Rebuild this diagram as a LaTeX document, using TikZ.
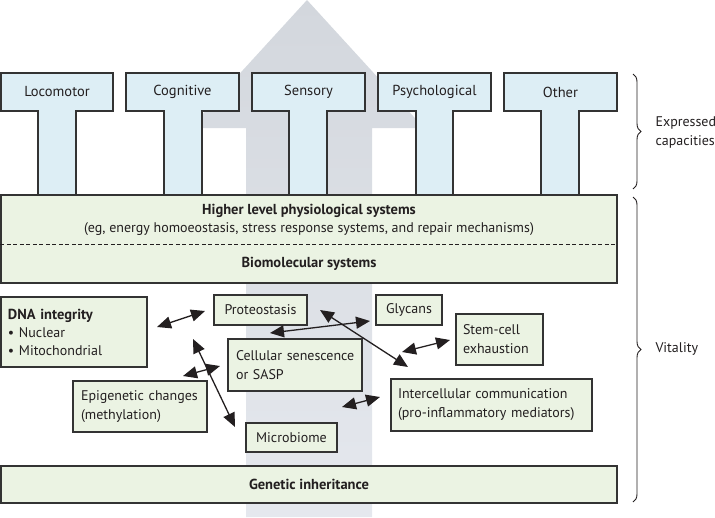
\documentclass[tikz,border=0pt]{standalone}
\usepackage{fontspec}
\setmainfont{PT Sans}
\usetikzlibrary{arrows.meta,decorations.pathreplacing}
\definecolor{txt}{HTML}{231F20}
\definecolor{edge}{HTML}{333333}
\definecolor{tblue}{HTML}{DDEEF5}
\definecolor{bgreen}{HTML}{EBF3E3}
\definecolor{arrtop}{RGB}{211,215,221}
\definecolor{arrbot}{RGB}{229,232,238}
\tikzset{
  tshape/.style={draw=edge, fill=tblue, line width=1.1pt},
  tlabel/.style={text=txt, font=\fontsize{14.5}{16}\selectfont},
  gbox/.style={draw=edge, fill=bgreen, line width=1.1pt, rectangle, inner sep=0pt, text=txt,
     font=\fontsize{14}{19}\selectfont},
  lbox/.style={gbox, align=left},
  bold/.style={text=txt, font=\fontsize{14.5}{16}\bfseries\selectfont},
  dbl/.style={{Triangle[length=14pt,width=12pt]}-{Triangle[length=14pt,width=12pt]}, line width=1.3pt, draw=txt},
  brc/.style={decorate, decoration={brace, amplitude=8pt}, line width=0.9pt, draw=txt},
  side/.style={text=txt, font=\fontsize{14}{19}\selectfont, align=left, anchor=west}
}
\begin{document}
\begin{tikzpicture}[x=1pt,y=-1pt]
\useasboundingbox (0,0) rectangle (715,517);
% big background arrow
\shade[top color=arrtop, bottom color=arrbot]
  (246,517) -- (246,128) -- (190,128) -- (307,0) -- (424,128) -- (372,128) -- (372,517) -- cycle;
% T shapes
\foreach \xa/\xb/\sa/\sb/\nm/\lab in {1/113/38/76/loco/Locomotor, 126/239/164/202/cogn/Cognitive, 252/365/289/327/sens/Sensory, 378/491/416/453/psyc/Psychological, 504/617/541/579/othr/Other}{
  \draw[tshape] (\xa,73) -- (\xb,73) -- (\xb,111) -- (\sb,111) -- (\sb,195) -- (\sa,195) -- (\sa,111) -- (\xa,111) -- cycle;
  \node[tlabel] (\nm) at ({(\xa+\xb)/2},92) {\lab};
}
% higher level / biomolecular
\node[gbox, minimum width=616pt, minimum height=88pt] (high) at (309,239) {};
\draw[line width=0.9pt, draw=txt, dash pattern=on 4pt off 2.5pt] (high.west |- 0,244) coordinate (dl) -- (high.east |- 0,244) coordinate (dr);
\node[bold] (hl1) at (309,211) {Higher level physiological systems};
\node[text=txt, font=\fontsize{14}{16}\selectfont] (hl2) at (309,229.5) {(eg, energy homoeostasis, stress response systems, and repair mechanisms)};
\node[bold] (bio) at (309,264) {Biomolecular systems};
% genetic inheritance
\node[gbox, minimum width=616pt, minimum height=37pt, font=\fontsize{14.5}{16}\bfseries\selectfont] (gen) at (309,484.5) {Genetic inheritance};
% lower boxes
\node[lbox, minimum height=70pt, text width=132pt, inner xsep=7pt] (dna) at (74,332)
  {{\fontsize{14.5}{16}\bfseries\selectfont DNA integrity}\\[-1pt]\textbullet\ Nuclear\\[-1pt]\textbullet\ Mitochondrial};
\node[gbox, minimum width=93pt, minimum height=30pt] (prot) at (260.5,310) {Proteostasis};
\node[gbox, minimum width=66pt, minimum height=30pt] (glyc) at (409,310) {Glycans};
\node[lbox, minimum height=51pt, text width=73pt, inner xsep=7pt] (stem) at (499.5,339.5) {Stem-cell\\exhaustion};
\node[lbox, minimum height=52pt, text width=122pt, inner xsep=6pt] (sene) at (295,365) {\hspace{2pt}Cellular senescence\\\hspace{2pt}or SASP};
\node[lbox, minimum height=51pt, text width=122pt, inner xsep=6pt] (epig) at (140,406.5) {\hspace{2pt}Epigenetic changes\\\hspace{2pt}(methylation)};
\node[gbox, minimum width=91pt, minimum height=29pt] (micr) at (291.5,437.5) {Microbiome};
\node[lbox, minimum height=52pt, text width=187pt, inner xsep=7pt] (inte) at (491.5,405) {Intercellular communication\\(pro-inflammatory mediators)};
% arrow end points
\coordinate (a1s) at (157,327); \coordinate (a1e) at (205,311);
\coordinate (a2s) at (193,339); \coordinate (a2e) at (235,427);
\coordinate (a3s) at (183,376); \coordinate (a3e) at (220,366);
\coordinate (a4s) at (270,333); \coordinate (a4e) at (370,321);
\coordinate (a5s) at (320,310); \coordinate (a5e) at (408,367);
\coordinate (a6s) at (402,352); \coordinate (a6e) at (450,340);
\coordinate (a7s) at (342,407); \coordinate (a7e) at (380,397);
\draw[dbl] (a1s) -- (a1e);
\draw[dbl] (a2s) -- (a2e);
\draw[dbl] (a3s) -- (a3e);
\draw[dbl] (a4s) -- (a4e);
\draw[dbl] (a5s) -- (a5e);
\draw[dbl] (a6s) -- (a6e);
\draw[dbl] (a7s) -- (a7e);
% braces
\coordinate (b1t) at (633,74); \coordinate (b1b) at (633,189);
\coordinate (b2t) at (633,197); \coordinate (b2b) at (633,502);
\draw[brc] (b1t) -- (b1b);
\draw[brc] (b2t) -- (b2b);
\node[side] (expr) at (652,132) {Expressed\\capacities};
\node[side] (vita) at (652,349) {Vitality};
\end{tikzpicture}
\end{document}
